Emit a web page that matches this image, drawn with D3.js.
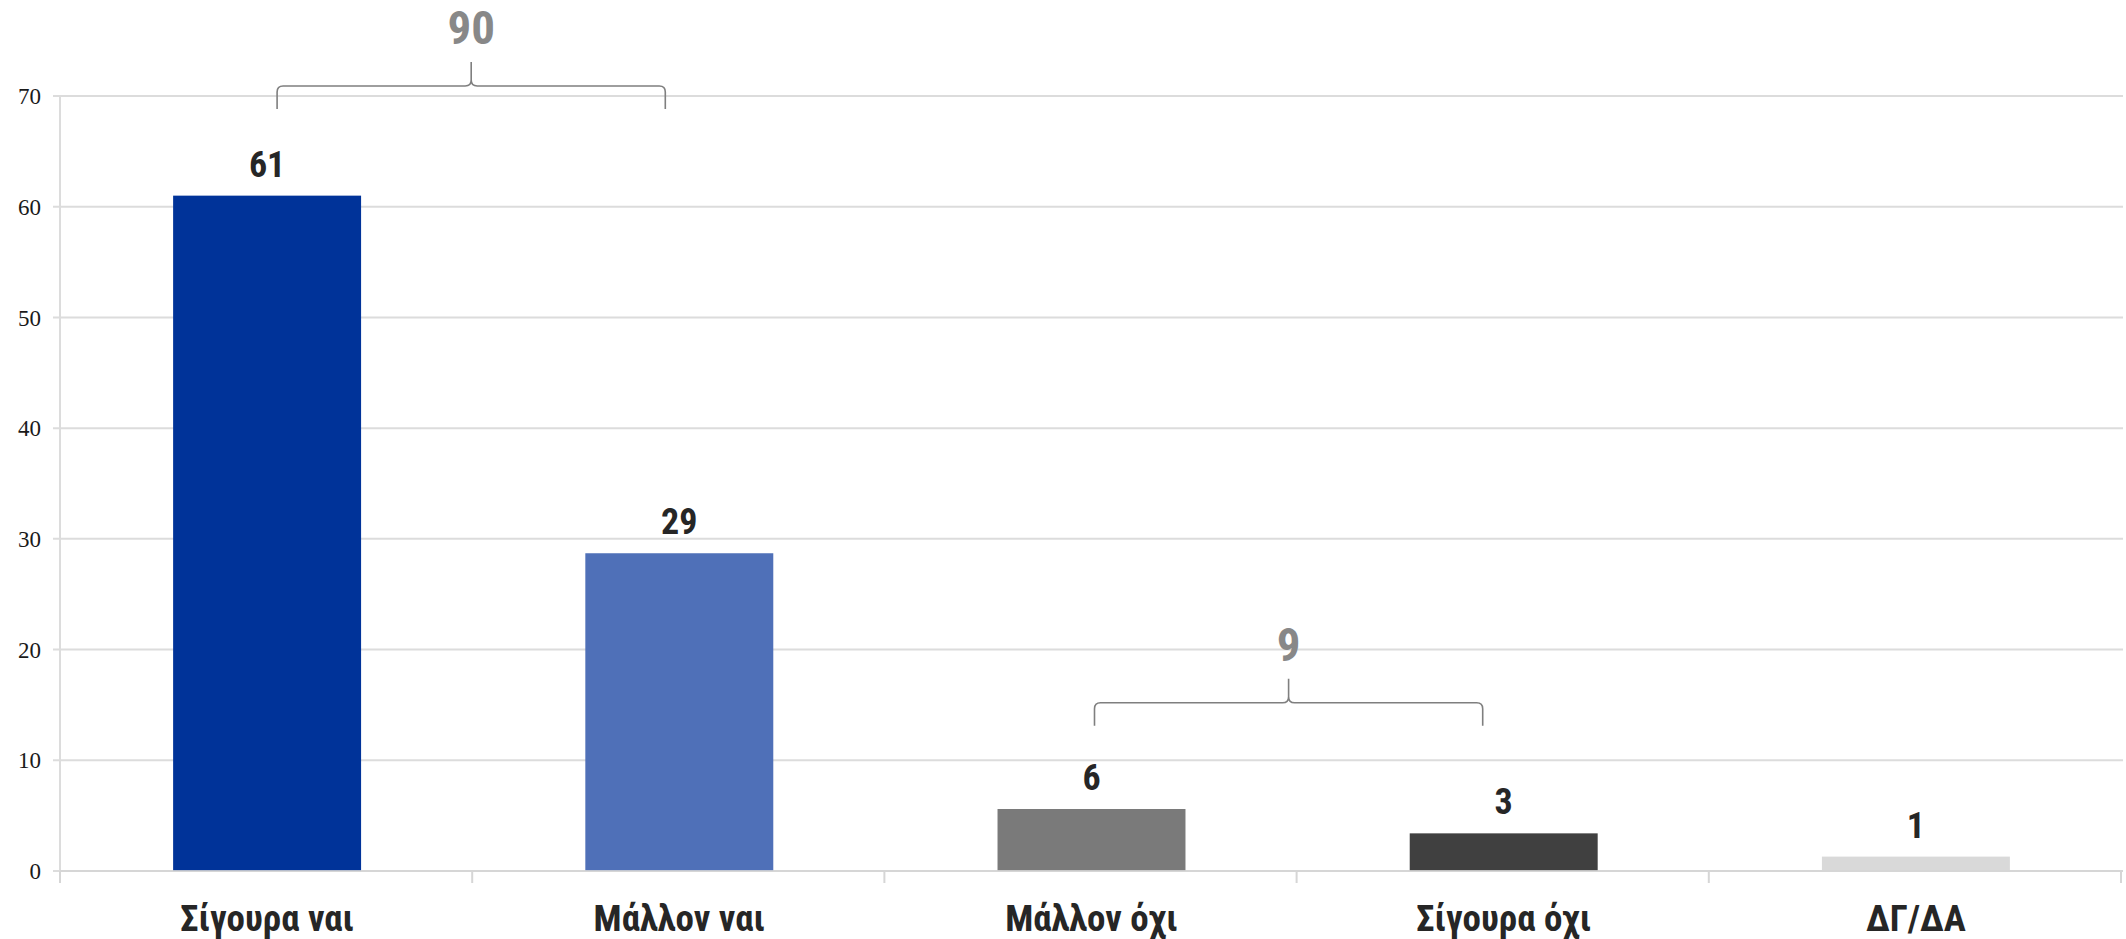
<!DOCTYPE html>
<html>
<head>
<meta charset="utf-8">
<script src="https://cdn.jsdelivr.net/npm/d3@7"></script>
<style>
  html, body { margin: 0; padding: 0; background: #fff; }
  svg { display: block; }
</style>
</head>
<body>
<svg id="chart" width="2126" height="939"></svg>
<script>
// ---- data ----
const categories = ["Σίγουρα ναι", "Μάλλον ναι", "Μάλλον όχι", "Σίγουρα όχι", "ΔΓ/ΔΑ"];
const values = [61, 28.7, 5.6, 3.4, 1.3];
const barColors = ["#003399", "#4f70b8", "#7a7a7a", "#404040", "#d9d9d9"];
const yTicks = [0, 10, 20, 30, 40, 50, 60, 70];
const bracketFrom = ["Σίγουρα ναι", "Μάλλον όχι"];
const bracketTo = ["Μάλλον ναι", "Σίγουρα όχι"];
const bracketTotals = [90, 9];
const bracketLevels = [70.9, 15.2];

// ---- layout ----
const svg = d3.select("#chart");
const x = d3.scaleBand().domain(categories).range([60, 2121]).padding(0);
const y = d3.scaleLinear().domain([0, 70]).range([871, 96]);
const barW = x.bandwidth() * 0.456;
const narrow = "'Liberation Sans Narrow', 'Arial Narrow', 'Roboto Condensed', sans-serif";

// gridlines
svg.append("g").selectAll("line").data(yTicks).join("line")
  .attr("x1", 53).attr("x2", 2123)
  .attr("y1", d => y(d)).attr("y2", d => y(d))
  .attr("stroke", "#dcdcdc").attr("stroke-width", 2);

// y axis line
svg.append("line").attr("x1", 60).attr("x2", 60).attr("y1", y(70)).attr("y2", 883)
  .attr("stroke", "#dcdcdc").attr("stroke-width", 2);

// y tick labels via axis
const yAxis = svg.append("g").attr("transform", "translate(41,0)")
  .call(d3.axisLeft(y).tickValues(yTicks).tickSize(0).tickPadding(0));
yAxis.select(".domain").remove();
yAxis.selectAll("text")
  .attr("font-family", "'Liberation Serif', 'DejaVu Serif', serif")
  .attr("font-size", 23).attr("fill", "#1a1a1a").attr("dy", "0.33em");

// bars
svg.append("g").selectAll("rect").data(values).join("rect")
  .attr("x", (d, i) => x(categories[i]) + x.bandwidth() / 2 - barW / 2 + 1)
  .attr("width", barW)
  .attr("y", d => y(d))
  .attr("height", d => y(0) - y(d))
  .attr("fill", (d, i) => barColors[i]);

// x axis baseline (over bars) + ticks at band boundaries
svg.append("line").attr("x1", 60).attr("x2", 2123).attr("y1", y(0)).attr("y2", y(0))
  .attr("stroke", "#d6d6d6").attr("stroke-width", 2).attr("opacity", 0.85);
const boundaries = categories.map(c => x(c)).concat([x.range()[1]]);
svg.append("g").selectAll("line").data(boundaries).join("line")
  .attr("x1", d => d).attr("x2", d => d)
  .attr("y1", y(0)).attr("y2", y(0) + 12)
  .attr("stroke", "#d6d6d6").attr("stroke-width", 2);

// category labels
svg.append("g").selectAll("text").data(categories).join("text")
  .attr("x", d => x(d) + x.bandwidth() / 2 + 1)
  .attr("y", 931)
  .attr("text-anchor", "middle")
  .attr("font-family", narrow).attr("font-weight", "bold")
  .attr("font-size", 37).attr("fill", "#262626")
  .text(d => d);

// value labels
const fmt = d3.format(".0f");
svg.append("g").selectAll("text").data(values).join("text")
  .attr("x", (d, i) => x(categories[i]) + x.bandwidth() / 2 + 1)
  .attr("y", d => y(d) - 19)
  .attr("text-anchor", "middle")
  .attr("font-family", narrow).attr("font-weight", "bold")
  .attr("font-size", 36).attr("fill", "#262626")
  .text(d => fmt(d));

// brackets
const insetL = [11, 4], insetR = [13, 20];
const r = 6;
bracketTotals.forEach((tot, i) => {
  const x1 = x(bracketFrom[i]) + x.bandwidth() / 2 + insetL[i];
  const x2 = x(bracketTo[i]) + x.bandwidth() / 2 - insetR[i];
  const xm = (x1 + x2) / 2;
  const L = y(bracketLevels[i]);
  const yEnd = L + 23, top = L - 24;
  const p = d3.path();
  p.moveTo(x1, yEnd); p.lineTo(x1, L + r);
  p.quadraticCurveTo(x1, L, x1 + r, L);
  p.lineTo(xm - r, L);
  p.quadraticCurveTo(xm, L, xm, L - r);
  p.lineTo(xm, top);
  p.moveTo(xm, L - r);
  p.quadraticCurveTo(xm, L, xm + r, L);
  p.lineTo(x2 - r, L);
  p.quadraticCurveTo(x2, L, x2, L + r);
  p.lineTo(x2, yEnd);
  svg.append("path").attr("d", p.toString())
    .attr("fill", "none").attr("stroke", "#7f7f7f").attr("stroke-width", 1.6);
  svg.append("text")
    .attr("x", xm).attr("y", top - 18)
    .attr("text-anchor", "middle")
    .attr("font-family", narrow).attr("font-weight", "bold")
    .attr("font-size", 47).attr("fill", "#888888")
    .text(tot);
});
</script>
</body>
</html>
